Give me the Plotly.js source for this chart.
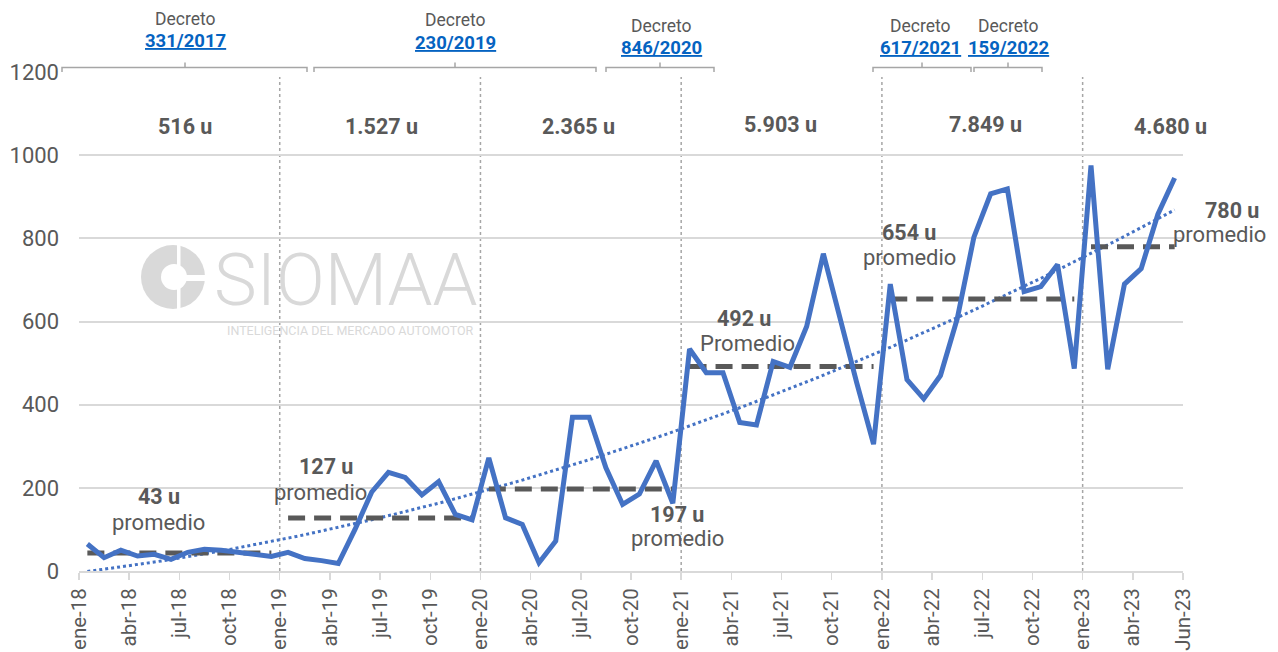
<!DOCTYPE html>
<html>
<head>
<meta charset="utf-8">
<script src="https://cdn.plot.ly/plotly-3.0.1.min.js"></script>
<style>html,body{margin:0;padding:0;background:#fff;}#chart{width:1278px;height:652px;}</style>
</head>
<body>
<div id="chart"></div>
<script>
// ---- Data (monthly units, ene-18 .. jun-23) ----
const v2018 = [65, 32, 50, 36, 40, 28, 45, 52, 50, 45, 38, 35];
const v2019 = [45, 30, 25, 18, 100, 190, 237, 225, 183, 215, 136, 123];
const v2020 = [272, 128, 112, 20, 72, 370, 370, 248, 160, 185, 265, 163];
const v2021 = [534, 477, 477, 357, 351, 504, 490, 588, 763, 605, 452, 305];
const v2022 = [690, 460, 414, 470, 606, 803, 907, 919, 672, 684, 737, 487];
const v2023 = [975, 485, 690, 727, 858, 945];
const years = [v2018, v2019, v2020, v2021, v2022, v2023];
const avgWords = ['promedio', 'promedio', 'promedio', 'Promedio', 'promedio', 'promedio'];
const tickLabels = ['ene-18','abr-18','jul-18','oct-18','ene-19','abr-19','jul-19','oct-19',
  'ene-20','abr-20','jul-20','oct-20','ene-21','abr-21','jul-21','oct-21',
  'ene-22','abr-22','jul-22','oct-22','ene-23','abr-23','Jun-23'];
const decretos = ['331/2017', '230/2019', '846/2020', '617/2021', '159/2022'];

// ---- Derived ----
const values = [].concat(...years);
const idx = values.map((_, i) => i);
const fmt = n => String(n).replace(/\B(?=(\d{3})+(?!\d))/g, '.');

// quadratic least-squares trend (Excel-like polynomial trendline)
function polyfit(xs, ys, deg) {
  const n = deg + 1;
  const A = Array.from({length: n}, () => new Array(n + 1).fill(0));
  for (let r = 0; r < n; r++) {
    for (let c = 0; c < n; c++) A[r][c] = xs.reduce((s, x) => s + Math.pow(x, r + c), 0);
    A[r][n] = xs.reduce((s, x, k) => s + ys[k] * Math.pow(x, r), 0);
  }
  for (let p = 0; p < n; p++) {
    let m = p;
    for (let r = p + 1; r < n; r++) if (Math.abs(A[r][p]) > Math.abs(A[m][p])) m = r;
    [A[p], A[m]] = [A[m], A[p]];
    for (let r = 0; r < n; r++) {
      if (r === p) continue;
      const f = A[r][p] / A[p][p];
      for (let c = p; c <= n; c++) A[r][c] -= f * A[p][c];
    }
  }
  return A.map((row, r) => row[n] / row[r]);
}
const coef = polyfit(idx, values, 2);
const trendX = [], trendY = [];
for (let x = 0; x <= values.length - 1; x += 0.5) {
  trendX.push(x);
  trendY.push(coef.reduce((s, c, k) => s + c * Math.pow(x, k), 0));
}

const FONT = 'Roboto, "Open Sans", sans-serif';
const GREY = '#595959';
const BLUE = '#4472c4';

const traces = [];
traces.push({x: trendX, y: trendY, mode: 'lines', line: {color: BLUE, width: 3, dash: 'dot'}, hoverinfo: 'skip'});

// yearly average dashed lines
let start = 0;
const segs = [];
years.forEach((arr, k) => {
  const sum = arr.reduce((a, b) => a + b, 0);
  const avg = sum / arr.length;
  const end = start + arr.length - 1;
  segs.push({start, end, sum, avg});
  traces.push({x: [start, end], y: [avg, avg], mode: 'lines',
    line: {color: GREY, width: 5, dash: '17px,9px'}, hoverinfo: 'skip'});
  start = end + 1;
});

traces.push({x: idx, y: values, mode: 'lines', line: {color: BLUE, width: 5}, hoverinfo: 'x+y'});

// ---- layout geometry helpers ----
const L = 79, T = 72, W = 1104, H = 499;
const px2x = p => (p - L) / W;     // paper x
const py2y = p => (T + H - p) / H; // paper y

const shapes = [];
// year separators
segs.slice(1).forEach(s => {
  shapes.push({type: 'line', xref: 'x', yref: 'y', x0: s.start - 0.5, x1: s.start - 0.5, y0: 0, y1: 1188,
    line: {color: '#a6a6a6', width: 1.5, dash: 'dot'}, layer: 'below'});
});
// brackets above plot
const brackets = [[62, 307, 185], [314, 596, 455], [606, 714, 660], [873, 971, 922], [974, 1042, 1008]];
brackets.forEach(b => {
  const [l, r, c] = b.map(px2x);
  shapes.push({type: 'path', xref: 'paper', yref: 'paper',
    path: `M ${l},${py2y(72)} L ${l},${py2y(67.5)} L ${r},${py2y(67.5)} L ${r},${py2y(72)} M ${c},${py2y(67.5)} L ${c},${py2y(62.5)}`,
    line: {color: '#a6a6a6', width: 1.5}});
});
// watermark logo
const WM = '#d9d9d9';
shapes.push({type: 'circle', xref: 'paper', yref: 'paper', x0: px2x(141), x1: px2x(205), y0: py2y(309), y1: py2y(245), fillcolor: WM, line: {width: 0}, layer: 'below'});
shapes.push({type: 'circle', xref: 'paper', yref: 'paper', x0: px2x(161), x1: px2x(187), y0: py2y(290), y1: py2y(264), fillcolor: '#ffffff', line: {width: 0}, layer: 'below'});
shapes.push({type: 'rect', xref: 'paper', yref: 'paper', x0: px2x(177), x1: px2x(180.5), y0: py2y(312), y1: py2y(242), fillcolor: '#ffffff', line: {width: 0}, layer: 'below'});
shapes.push({type: 'rect', xref: 'paper', yref: 'paper', x0: px2x(176), x1: px2x(208), y0: py2y(281), y1: py2y(275), fillcolor: '#ffffff', line: {width: 0}, layer: 'below'});

const annotations = [];
// decreto labels
const decPos = [[185, 19, 41], [455, 20, 43], [661, 26, 48], [921, 26, 48], [1008, 26, 48]];
decretos.forEach((d, k) => {
  const [cx, y1, y2] = decPos[k];
  annotations.push({xref: 'paper', yref: 'paper', x: px2x(cx), y: py2y(y1), text: 'Decreto', showarrow: false,
    font: {family: FONT, size: 17.5, color: GREY}, xanchor: 'center', yanchor: 'middle'});
  annotations.push({xref: 'paper', yref: 'paper', x: px2x(cx), y: py2y(y2), text: d, showarrow: false,
    font: {family: FONT, size: 18.5, color: '#0563c1', weight: 'bold', lineposition: 'under'}, xanchor: 'center', yanchor: 'middle'});
});
// totals per period
const totPos = [[185, 126], [381, 126], [578, 126], [780, 124], [985, 124], [1170, 126]];
segs.forEach((s, k) => {
  annotations.push({xref: 'paper', yref: 'paper', x: px2x(totPos[k][0]), y: py2y(totPos[k][1]),
    text: '<b>' + fmt(s.sum) + ' u</b>', showarrow: false, font: {family: FONT, size: 21.5, color: GREY}, xanchor: 'center', yanchor: 'middle'});
});
// average labels
const avgPos = [[159, 496, 158, 522], [326, 466, 320, 492], [677, 514, 677, 538], [744, 318, 747, 343], [909, 232, 909, 257], [1232, 210, 1219, 234]];
segs.forEach((s, k) => {
  const p = avgPos[k];
  annotations.push({xref: 'paper', yref: 'paper', x: px2x(p[0]), y: py2y(p[1]), text: '<b>' + Math.round(s.avg) + ' u</b>',
    showarrow: false, font: {family: FONT, size: 21.5, color: GREY}, xanchor: 'center', yanchor: 'middle'});
  annotations.push({xref: 'paper', yref: 'paper', x: px2x(p[2]), y: py2y(p[3]), text: avgWords[k],
    showarrow: false, font: {family: FONT, size: 22, color: GREY}, xanchor: 'center', yanchor: 'middle'});
});
// watermark text
annotations.push({xref: 'paper', yref: 'paper', x: px2x(346), y: py2y(280), text: 'SIOMAA', showarrow: false,
  font: {family: FONT, size: 72, color: WM, weight: 300}, xanchor: 'center', yanchor: 'middle'});
annotations.push({xref: 'paper', yref: 'paper', x: px2x(350), y: py2y(330), text: 'INTELIGENCIA DEL MERCADO AUTOMOTOR', showarrow: false,
  font: {family: FONT, size: 12.5, color: WM}, xanchor: 'center', yanchor: 'middle'});

const layout = {
  width: 1278, height: 652,
  margin: {l: L, r: 1278 - L - W, t: T, b: 652 - T - H, pad: 0},
  paper_bgcolor: '#ffffff', plot_bgcolor: '#ffffff',
  showlegend: false,
  font: {family: FONT, color: GREY},
  xaxis: {
    range: [-0.5, values.length - 0.5],
    tickvals: tickLabels.map((_, k) => k * 3 - 0.5),
    ticktext: tickLabels,
    tickangle: -90,
    ticks: 'outside', ticklen: 7, tickcolor: '#d9d9d9', tickwidth: 1.5,
    showline: true, linecolor: '#d9d9d9', linewidth: 2,
    showgrid: false, zeroline: false,
    tickfont: {family: FONT, size: 20.5, color: GREY}
  },
  yaxis: {
    range: [0, 1200], dtick: 200, tick0: 0,
    showgrid: true, gridcolor: '#d9d9d9', gridwidth: 2,
    zeroline: false, showline: false, ticks: '',
    ticklabelstandoff: 19,
    tickfont: {family: FONT, size: 22, color: GREY}
  },
  shapes, annotations
};

Plotly.newPlot('chart', traces, layout, {displayModeBar: false, staticPlot: true});
</script>
</body>
</html>
